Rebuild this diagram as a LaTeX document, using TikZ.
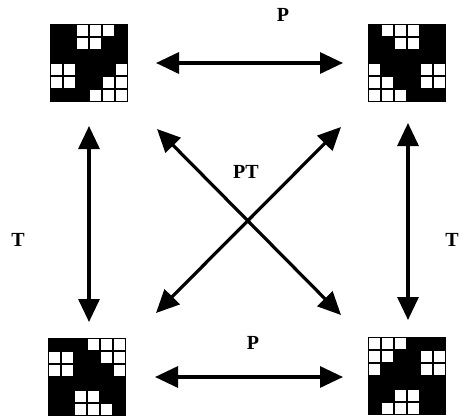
\documentclass[tikz,border=0pt]{standalone}
\usepackage{fontspec}
\setmainfont{Liberation Serif}
\usetikzlibrary{arrows.meta,calc}
\newcommand\whitecells[2]{%
  \foreach \c/\r in {#2}
    \fill[white] ($(#1.north west)+(\c*13+1,\r*13+1)$) rectangle ++(11,11);}
\begin{document}
\begin{tikzpicture}[x=1pt,y=-1pt,
  gridbox/.style={fill=black,minimum size=78pt,inner sep=0pt,outer sep=0pt},
  dbl/.style={line width=3.2pt,{Triangle[length=23pt,width=21pt]}-{Triangle[length=23pt,width=21pt]}},
  lab/.style={font=\fontsize{20}{24}\selectfont\bfseries}]
\useasboundingbox (0,0) rectangle (460,418);
% grids
\node[gridbox] (tl) at (89,63) {};
\node[gridbox] (tr) at (407,63) {};
\node[gridbox] (bl) at (87,377) {};
\node[gridbox] (br) at (407,376) {};
\whitecells{tl}{2/0,3/0,4/0,2/1,3/1,0/3,1/3,5/3,0/4,1/4,4/4,5/4,3/5,4/5,5/5}
\whitecells{tr}{1/0,2/0,3/0,2/1,3/1,0/3,4/3,5/3,0/4,1/4,4/4,5/4,0/5,1/5,2/5}
\whitecells{bl}{3/0,4/0,5/0,0/1,1/1,4/1,5/1,0/2,1/2,5/2,2/4,3/4,2/5,3/5,4/5}
\whitecells{br}{0/0,1/0,2/0,0/1,1/1,4/1,5/1,0/2,4/2,5/2,2/4,3/4,1/5,2/5,3/5}
% arrow end points
\coordinate (ht1) at (156,63);  \coordinate (ht2) at (343,63);
\coordinate (hb1) at (155,377); \coordinate (hb2) at (343,377);
\coordinate (vl1) at (89,126);  \coordinate (vl2) at (89,322);
\coordinate (vr1) at (408,123); \coordinate (vr2) at (408,320);
\coordinate (d1a) at (157,129); \coordinate (d1b) at (341,315);
\coordinate (d2a) at (341,127); \coordinate (d2b) at (156,313);
% arrows
\draw[dbl] (ht1) -- (ht2);
\draw[dbl] (hb1) -- (hb2);
\draw[dbl] (vl1) -- (vl2);
\draw[dbl] (vr1) -- (vr2);
\draw[dbl] (d1a) -- (d1b);
\draw[dbl] (d2a) -- (d2b);
% labels
\node[lab] (lp1) at (283,15) {P};
\node[lab] (lp2) at (253,343) {P};
\node[lab] (lpt) at (246,172) {PT};
\node[lab] (lt1) at (18,240) {T};
\node[lab] (lt2) at (452,240) {T};
\end{tikzpicture}
\end{document}
